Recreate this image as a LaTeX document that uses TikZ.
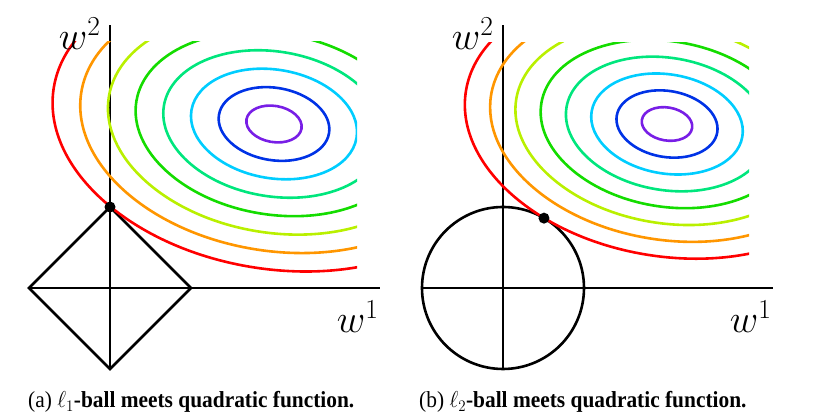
\RequirePackage{fix-cm}
\documentclass[tikz,border=0pt]{standalone}
\usepackage{fontspec}
\setmainfont{Liberation Serif}
\definecolor{lvlone}{RGB}{120, 30, 230}
\definecolor{lvltwo}{RGB}{0, 50, 230}
\definecolor{lvlthree}{RGB}{0, 205, 255}
\definecolor{lvlfour}{RGB}{0, 230, 125}
\definecolor{lvlfive}{RGB}{20, 220, 0}
\definecolor{lvlsix}{RGB}{185, 240, 0}
\definecolor{lvlseven}{RGB}{255, 150, 0}
\definecolor{lvleight}{RGB}{255, 0, 0}
\newcommand{\axisfont}{\fontsize{28}{32}\selectfont}
\newcommand{\capfont}{\fontsize{23}{27}\selectfont}
\tikzset{
  lbl/.style={font=\axisfont, inner sep=0pt, anchor=base west, scale=1.4},
  captext/.style={font=\capfont, inner sep=0pt, anchor=base west, xscale=0.93},
  lvl/.style={line width=2.6pt}
}

\begin{document}
\begin{tikzpicture}[x=1pt, y=1pt, line width=2.6pt]
  \useasboundingbox (0,0) rectangle (817,419);

  % l1-ball
  \begin{scope}[shift={(110,131)}]
    \draw (0,-81) -- (0,263);
    \draw (-81,0) -- (270,0);
    \draw (-81,0) -- (0,81) -- (81,0) -- (0,-81) -- cycle;
    \begin{scope}
      \clip (-120,-100) rectangle (247,246);
      \draw[lvl, lvlone] (164,164) ellipse [x radius=27.9pt, y radius=18.1pt, rotate=-9.5];
      \draw[lvl, lvltwo] (164,164) ellipse [x radius=55.8pt, y radius=36.2pt, rotate=-9.5];
      \draw[lvl, lvlthree] (164,164) ellipse [x radius=83.7pt, y radius=54.3pt, rotate=-9.5];
      \draw[lvl, lvlfour] (164,164) ellipse [x radius=111.6pt, y radius=72.4pt, rotate=-9.5];
      \draw[lvl, lvlfive] (164,164) ellipse [x radius=139.5pt, y radius=90.5pt, rotate=-9.5];
      \draw[lvl, lvlsix] (164,164) ellipse [x radius=167.4pt, y radius=108.6pt, rotate=-9.5];
      \draw[lvl, lvlseven] (164,164) ellipse [x radius=195.3pt, y radius=126.7pt, rotate=-9.5];
      \draw[lvl, lvleight] (164,164) ellipse [x radius=223.2pt, y radius=144.8pt, rotate=-9.5];
    \end{scope}
    \coordinate (touchA) at (0,81);
    \fill (touchA) circle [radius=5.5pt];
    \node[lbl] (wtwoA) at (-53,238) {$w^2$};
    \node[lbl] (woneA) at (225,-45) {$w^1$};
    \node[captext] (capA) at (-83,-120) {(a) $\ell_1$\textbf{-ball meets quadratic function.}};
  \end{scope}

  % l2-ball
  \begin{scope}[shift={(503,131)}]
    \draw (0,-81) -- (0,263);
    \draw (-81,0) -- (270,0);
    \draw (0,0) circle [radius=81pt];
    \begin{scope}
      \clip (-120,-100) rectangle (246,245);
      \draw[lvl, lvlone] (164,164) ellipse [x radius=25.47pt, y radius=16.53pt, rotate=-9.5];
      \draw[lvl, lvltwo] (164,164) ellipse [x radius=50.94pt, y radius=33.06pt, rotate=-9.5];
      \draw[lvl, lvlthree] (164,164) ellipse [x radius=76.41pt, y radius=49.59pt, rotate=-9.5];
      \draw[lvl, lvlfour] (164,164) ellipse [x radius=101.88pt, y radius=66.12pt, rotate=-9.5];
      \draw[lvl, lvlfive] (164,164) ellipse [x radius=127.35pt, y radius=82.65pt, rotate=-9.5];
      \draw[lvl, lvlsix] (164,164) ellipse [x radius=152.82pt, y radius=99.18pt, rotate=-9.5];
      \draw[lvl, lvlseven] (164,164) ellipse [x radius=178.29pt, y radius=115.71pt, rotate=-9.5];
      \draw[lvl, lvleight] (164,164) ellipse [x radius=203.76pt, y radius=132.24pt, rotate=-9.5];
    \end{scope}
    \coordinate (touchB) at (59.6:81);
    \fill (touchB) circle [radius=5.5pt];
    \node[lbl] (wtwoB) at (-53,238) {$w^2$};
    \node[lbl] (woneB) at (225,-45) {$w^1$};
    \node[captext] (capB) at (-85,-120) {(b) $\ell_2$\textbf{-ball meets quadratic function.}};
  \end{scope}
\end{tikzpicture}
\end{document}
